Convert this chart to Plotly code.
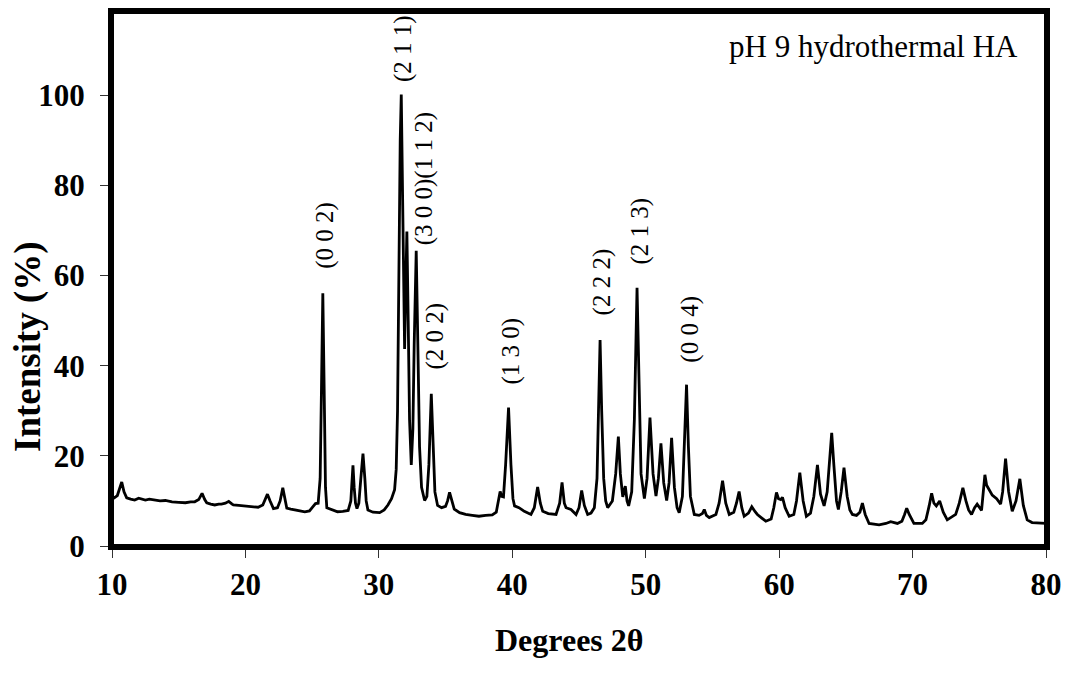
import plotly.graph_objects as go

two_theta = [
    10.0, 10.17, 10.4, 10.6, 10.73, 10.9, 11.1, 11.4, 11.7, 12.0, 12.2, 12.5, 12.8, 13.2, 13.6, 14.0,
    14.5, 15.0, 15.5, 15.9, 16.2, 16.5, 16.75, 16.95, 17.1, 17.4, 17.7, 18.0, 18.2, 18.5, 18.75, 19.0,
    19.1, 19.5, 19.95, 20.5, 20.95, 21.3, 21.5, 21.65, 21.85, 22.1, 22.4, 22.6, 22.8, 23.0, 23.1, 23.4,
    23.7, 24.1, 24.45, 24.8, 25.1, 25.25, 25.45, 25.6, 25.7, 25.8, 25.9, 26.0, 26.1, 26.5, 26.9, 27.3,
    27.7, 27.9, 28.0, 28.06, 28.15, 28.25, 28.36, 28.5, 28.65, 28.81, 28.95, 29.05, 29.18, 29.56, 30.06,
    30.4, 30.68, 30.95, 31.18, 31.3, 31.4, 31.5, 31.6, 31.68, 31.78, 31.87, 31.93, 32.0, 32.1, 32.2,
    32.3, 32.43, 32.55, 32.65, 32.8, 32.92, 33.05, 33.2, 33.43, 33.6, 33.75, 33.93, 34.05, 34.2, 34.4,
    34.7, 35.0, 35.15, 35.3, 35.45, 35.65, 36.05, 36.5, 37.0, 37.5, 38.0, 38.5, 38.8, 38.95, 39.09,
    39.2, 39.34, 39.5, 39.72, 39.9, 40.05, 40.17, 40.5, 40.9, 41.4, 41.65, 41.9, 42.1, 42.28, 42.7,
    43.28, 43.55, 43.73, 43.9, 44.03, 44.4, 44.78, 45.0, 45.2, 45.4, 45.65, 45.9, 46.15, 46.35, 46.48,
    46.58, 46.7, 46.85, 47.0, 47.15, 47.5, 47.75, 47.95, 48.1, 48.28, 48.47, 48.6, 48.72, 48.95, 49.15,
    49.35, 49.5, 49.65, 49.9, 50.1, 50.32, 50.55, 50.77, 50.95, 51.14, 51.35, 51.57, 51.75, 51.94,
    52.15, 52.35, 52.51, 52.75, 52.92, 53.06, 53.2, 53.35, 53.64, 54.0, 54.25, 54.39, 54.55, 54.76,
    55.26, 55.5, 55.76, 56.0, 56.26, 56.6, 56.8, 57.0, 57.2, 57.38, 57.7, 57.95, 58.2, 58.37, 58.7,
    59.0, 59.4, 59.6, 59.8, 59.95, 60.12, 60.25, 60.45, 60.75, 61.1, 61.3, 61.55, 61.8, 62.04, 62.35,
    62.6, 62.87, 63.1, 63.37, 63.6, 63.8, 63.94, 64.1, 64.3, 64.44, 64.65, 64.86, 65.1, 65.3, 65.49,
    65.8, 66.05, 66.24, 66.45, 66.74, 67.49, 68.0, 68.36, 68.86, 69.2, 69.4, 69.56, 69.75, 70.1, 70.73,
    71.0, 71.25, 71.43, 71.6, 71.78, 72.03, 72.3, 72.6, 73.23, 73.5, 73.77, 74.0, 74.2, 74.42, 74.65,
    74.84, 75.0, 75.17, 75.3, 75.42, 75.55, 75.67, 75.97, 76.3, 76.6, 76.75, 76.97, 77.2, 77.47, 77.75,
    78.04, 78.3, 78.59, 78.96, 79.4, 79.84, 80.0,
]
intensity = [
    11.0, 10.7, 11.2, 13.0, 14.2, 12.0, 10.7, 10.4, 10.2, 10.6, 10.5, 10.2, 10.4, 10.2, 10.0, 10.1,
    9.8, 9.7, 9.6, 9.8, 9.8, 10.3, 11.7, 10.3, 9.6, 9.3, 9.1, 9.3, 9.3, 9.5, 9.9, 9.3,
    9.1, 9.0, 8.85, 8.8, 8.6, 9.1, 10.3, 11.5, 10.0, 8.3, 8.5, 10.0, 12.9, 10.0, 8.4, 8.2,
    8.0, 7.8, 7.6, 7.8, 8.8, 9.4, 9.5, 15.0, 35.0, 56.1, 35.0, 13.0, 8.5, 8.0, 7.6, 7.7,
    7.9, 10.0, 15.0, 17.9, 13.0, 9.5, 8.3, 9.5, 15.0, 20.5, 15.0, 10.0, 8.0, 7.5, 7.4,
    8.0, 9.1, 10.5, 12.5, 17.0, 30.0, 62.0, 90.0, 100.2, 80.0, 55.0, 43.7, 55.0, 69.8, 50.0,
    28.0, 18.0, 26.0, 45.0, 65.5, 45.0, 22.0, 13.0, 10.1, 11.0, 18.0, 33.8, 22.0, 12.0, 9.0,
    8.5, 8.8, 10.0, 11.9, 10.0, 8.2, 7.4, 7.0, 6.8, 6.6, 6.8, 6.9, 7.5, 10.0, 12.1,
    11.0, 10.9, 18.0, 30.7, 18.0, 10.5, 8.9, 8.5, 7.7, 7.0, 8.5, 13.1, 9.5, 7.7, 7.2,
    7.0, 9.5, 14.1, 9.5, 8.5, 8.1, 7.0, 8.5, 12.3, 9.0, 7.0, 7.3, 8.5, 15.0, 30.0,
    45.7, 30.0, 15.0, 10.0, 8.5, 10.0, 16.0, 24.3, 16.0, 10.9, 13.3, 10.0, 8.9, 12.0, 28.0,
    57.3, 32.0, 16.0, 10.5, 15.0, 28.5, 16.0, 11.1, 15.0, 22.8, 14.0, 10.1, 14.0, 24.0,
    13.0, 8.5, 7.4, 11.0, 24.0, 35.8, 22.0, 11.0, 7.0, 6.8, 7.2, 8.1, 6.8, 6.3,
    7.0, 9.5, 14.5, 9.5, 7.0, 7.5, 9.5, 12.1, 8.5, 6.6, 7.3, 8.7, 7.6, 7.0, 6.2,
    5.5, 6.0, 8.5, 11.9, 10.5, 10.3, 10.8, 8.5, 6.6, 7.0, 10.0, 16.3, 10.0, 6.6, 7.3,
    11.0, 18.0, 11.5, 8.9, 12.0, 20.0, 25.1, 18.0, 10.0, 8.1, 12.0, 17.4, 11.0, 8.0, 7.0,
    6.8, 7.5, 9.5, 7.0, 5.0, 4.7, 5.0, 5.4, 5.0, 5.5, 7.0, 8.4, 7.0, 5.0, 5.0,
    5.8, 9.0, 11.7, 9.5, 8.9, 10.0, 7.5, 5.8, 7.0, 9.5, 12.9, 10.0, 8.0, 7.0, 8.5,
    9.3, 8.5, 7.9, 12.0, 15.8, 13.5, 12.9, 11.3, 10.5, 9.3, 12.0, 19.4, 12.0, 7.7, 10.0,
    14.9, 9.0, 5.8, 5.2, 5.1, 5.0, 5.0,
]

# Miller-index labels: text, peak position (2theta), label base (intensity)
hkl_text = ["(0 0 2)", "(2 1 1)", "(3 0 0)(1 1 2)", "(2 0 2)", "(1 3 0)", "(2 2 2)", "(2 1 3)", "(0 0 4)"]
hkl_x = [25.9, 31.8, 33.35, 34.2, 39.9, 46.75, 49.6, 53.3]
hkl_y = [61.0, 102.6, 66.3, 38.8, 35.5, 50.7, 62.0, 40.3]

x_ticks = [10, 20, 30, 40, 50, 60, 70, 80]
y_ticks = [0, 20, 40, 60, 80, 100]

serif = "Liberation Serif, Times New Roman, serif"

fig = go.Figure()
fig.add_trace(go.Scatter(x=two_theta, y=intensity, mode="lines",
                         line=dict(color="black", width=2.8), showlegend=False))

for t, xx, yy in zip(hkl_text, hkl_x, hkl_y):
    fig.add_annotation(x=xx, y=yy, text=t, showarrow=False, textangle=-90,
                       xanchor="center", yanchor="bottom",
                       font=dict(family=serif, size=25, color="black"))

fig.add_annotation(x=1, y=1, xref="paper", yref="paper", xanchor="right", yanchor="middle",
                   xshift=-26, yshift=-34, text="pH 9 hydrothermal HA", showarrow=False,
                   font=dict(family=serif, size=31, color="black"))

# axis titles
fig.add_annotation(x=0.49, y=0, xref="paper", yref="paper", xanchor="center", yanchor="middle",
                   yshift=-94, text="<b>Degrees 2θ</b>", showarrow=False,
                   font=dict(family=serif, size=32, color="black"))
fig.add_annotation(x=0, y=0.5, xref="paper", yref="paper", xanchor="center", yanchor="middle",
                   xshift=-84, yshift=-68, textangle=-90, text="<b>Intensity (%)</b>", showarrow=False,
                   font=dict(family=serif, size=37, color="black"))

# thick frame around the plotting area
fig.add_shape(type="rect", xref="paper", yref="paper", x0=0, y0=0, x1=1, y1=1,
              line=dict(color="black", width=4), layer="above")

fig.update_layout(
    width=1071, height=675,
    margin=dict(l=112, r=25, t=8, b=129),
    paper_bgcolor="white", plot_bgcolor="white",
    xaxis=dict(range=[10, 80], tickvals=x_ticks, ticks="outside", ticklen=8, tickwidth=1,
               tickcolor="#333", showline=True, linewidth=4, linecolor="black", mirror=True,
               showgrid=False, zeroline=False, ticklabelstandoff=0,
               tickfont=dict(family=serif, size=31, color="black", weight="bold")),
    yaxis=dict(range=[0, 118.5], tickvals=y_ticks, ticks="outside", ticklen=8, tickwidth=1,
               tickcolor="#333", showline=True, linewidth=4, linecolor="black", mirror=True,
               showgrid=False, zeroline=False, ticklabelstandoff=9,
               tickfont=dict(family=serif, size=31, color="black", weight="bold")),
)

fig.write_html("out.html", config={"displayModeBar": False},
               post_script="document.body.style.margin='0';")
